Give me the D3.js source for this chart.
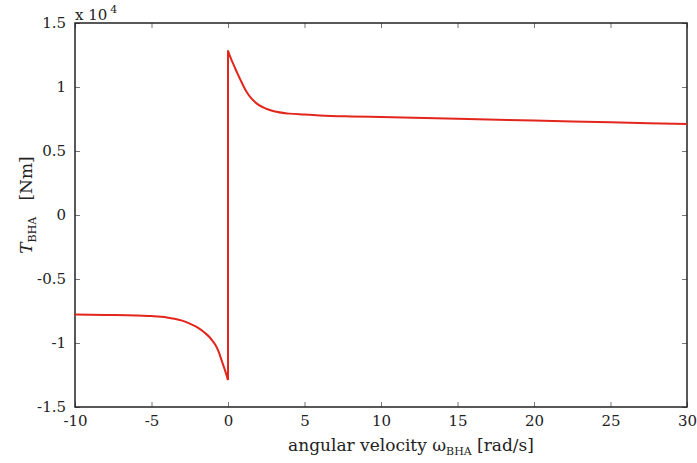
<!DOCTYPE html>
<html>
<head>
<meta charset="utf-8">
<script src="https://cdn.jsdelivr.net/npm/d3@7"></script>
<style>
  body { margin: 0; background: #fff; }
  svg text { font-family: "DejaVu Serif", serif; fill: #222; }
</style>
</head>
<body>
<svg id="chart"></svg>
<script>
// data (torque in units of 1e4 Nm), two branches either side of 0
const omegaNeg = [-10, -8, -6, -5, -4, -3.5, -3, -2.5, -2, -1.5, -1.2, -1, -0.8, -0.6, -0.4, -0.2, -0.1, 0]
const torqueNeg = [-0.778, -0.781, -0.785, -0.79, -0.8, -0.81, -0.825, -0.848, -0.878, -0.922, -0.955, -0.985, -1.02, -1.072, -1.142, -1.212, -1.25, -1.29]
const omegaPos = [0, 0.1, 0.2, 0.4, 0.6, 0.8, 1, 1.2, 1.5, 2, 2.5, 3, 4, 5, 6, 8, 10, 15, 20, 25, 30]
const torquePos = [1.285, 1.25, 1.22, 1.165, 1.11, 1.06, 1.01, 0.965, 0.915, 0.86, 0.83, 0.81, 0.792, 0.785, 0.778, 0.77, 0.765, 0.752, 0.738, 0.724, 0.71]
const xTicks = [-10, -5, 0, 5, 10, 15, 20, 25, 30]
const yTicks = [-1.5, -1, -0.5, 0, 0.5, 1, 1.5]

const WIDTH = 697
const HEIGHT = 463
const LEFT = 75, RIGHT = 687, TOP = 23, BOTTOM = 407
const TICK = 5
const LINE_COLOR = "#e2261c"
const FONT = "DejaVu Serif"

const svg = d3.select("#chart").attr("width", WIDTH).attr("height", HEIGHT)

const x = d3.scaleLinear().domain([-10, 30]).range([LEFT, RIGHT])
const y = d3.scaleLinear().domain([-1.5, 1.5]).range([BOTTOM, TOP])

const fmt = d => d3.format("")(d).replace("\u2212", "-")

// ticks on all four sides, pointing inward
svg.append("g").attr("transform", `translate(0,${BOTTOM})`)
  .call(d3.axisBottom(x).tickValues(xTicks).tickSizeInner(-TICK).tickSizeOuter(0).tickPadding(8).tickFormat(fmt))
svg.append("g").attr("transform", `translate(0,${TOP})`)
  .call(d3.axisTop(x).tickValues(xTicks).tickSizeInner(-TICK).tickSizeOuter(0).tickFormat(""))
svg.append("g").attr("transform", `translate(${LEFT},0)`)
  .call(d3.axisLeft(y).tickValues(yTicks).tickSizeInner(-TICK).tickSizeOuter(0).tickPadding(9).tickFormat(fmt))
svg.append("g").attr("transform", `translate(${RIGHT},0)`)
  .call(d3.axisRight(y).tickValues(yTicks).tickSizeInner(-TICK).tickSizeOuter(0).tickFormat(""))

svg.selectAll("g").attr("font-family", FONT)
svg.selectAll(".domain").remove()
svg.selectAll(".tick line").attr("stroke", "#777").attr("stroke-width", 1)
svg.selectAll(".tick text").attr("font-size", 15).attr("fill", "#222")

// frame
svg.append("rect")
  .attr("x", LEFT).attr("y", TOP)
  .attr("width", RIGHT - LEFT).attr("height", BOTTOM - TOP)
  .attr("fill", "none").attr("stroke", "#222").attr("stroke-width", 1.5)

// curve: left branch, jump at zero, right branch
const line = d3.line().curve(d3.curveMonotoneX)
const neg = omegaNeg.map((w, i) => [x(w), y(torqueNeg[i])])
const pos = omegaPos.map((w, i) => [x(w), y(torquePos[i])])
const curves = svg.append("g")
  .attr("fill", "none")
  .attr("stroke", LINE_COLOR)
  .attr("stroke-width", 2)
  .attr("stroke-linejoin", "round")
curves.append("path").attr("d", line(neg))
curves.append("path").attr("d", d3.line()([neg[neg.length - 1], pos[0]]))
curves.append("path").attr("d", line(pos))

// exponent label
const expo = svg.append("text").attr("x", LEFT).attr("y", 20).attr("font-size", 15).attr("font-family", FONT)
expo.append("tspan").text("x 10")
expo.append("tspan").attr("dy", -7).attr("font-size", 11).attr("dx", 3).text("4")

// x axis label
const xl = svg.append("text")
  .attr("x", 411).attr("y", 451)
  .attr("text-anchor", "middle").attr("font-size", 17).attr("font-family", FONT)
xl.append("tspan").text("angular velocity \u03c9")
xl.append("tspan").attr("font-size", 11).attr("dy", 4).text("BHA")
xl.append("tspan").attr("dy", -4).text(" [rad/s]")

// y axis label
const yl = svg.append("text")
  .attr("transform", "translate(32,205) rotate(-90)")
  .attr("text-anchor", "middle").attr("font-size", 17).attr("font-family", FONT)
  .attr("xml:space", "preserve")
yl.append("tspan").attr("font-style", "italic").text("T")
yl.append("tspan").attr("font-size", 11).attr("dy", 4).text("BHA")
yl.append("tspan").attr("dy", -4).text("   [Nm]")
</script>
</body>
</html>
